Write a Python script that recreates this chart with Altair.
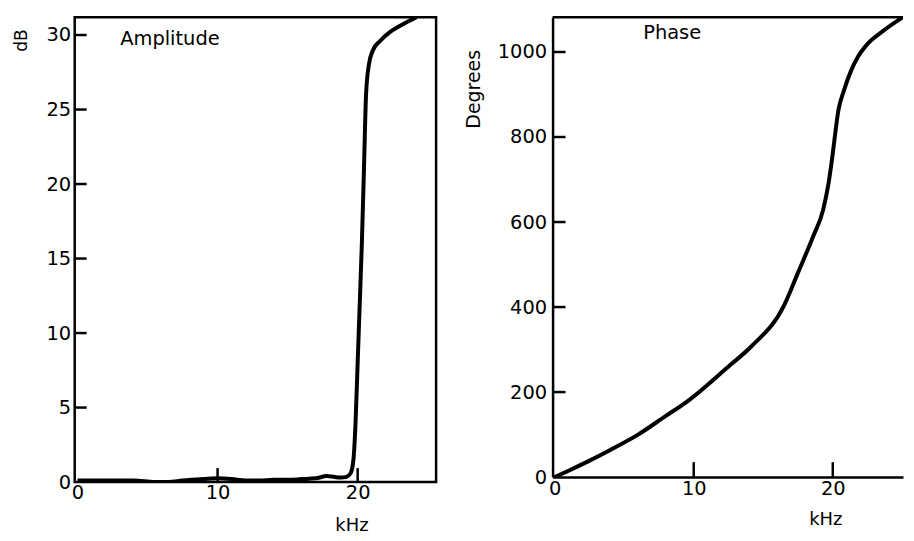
import altair as alt
import pandas as pd

# ---- Amplitude panel data (kHz, dB) ----
amp_khz = [0, 2, 4, 5.5, 6.5, 7.5, 9, 10, 11, 12, 13, 14, 15, 16, 17, 17.8, 18.3,
           18.8, 19.2, 19.5, 19.7, 19.85, 20.0, 20.15, 20.3, 20.45, 20.6, 20.8,
           21.1, 21.6, 22.3, 23.0, 23.6, 24.2]
amp_db = [0.1, 0.1, 0.1, 0.0, 0.0, 0.1, 0.2, 0.25, 0.2, 0.1, 0.1, 0.15, 0.15, 0.2,
          0.25, 0.4, 0.35, 0.3, 0.35, 0.6, 1.5, 4, 8, 12, 16, 21, 26, 28,
          29, 29.6, 30.2, 30.6, 30.9, 31.2]

# ---- Phase panel data (kHz, degrees) ----
phase_khz = [0, 1, 2.4, 4, 6, 8, 9.5, 12.6, 14.1, 16.5, 17.5, 18.6, 19.3, 19.7,
             20.0, 20.2, 20.4, 20.8, 21.3, 21.8, 22.5, 23.6, 25.05]
phase_deg = [0, 15, 37, 64, 100, 144, 177, 263, 306, 404, 481, 567, 628, 692,
             762, 815, 862, 909, 955, 988, 1019, 1049, 1082]

# ---- Tick values ----
x_ticks = [0, 10, 20]
x_inner_ticks = [10, 20]
amp_y_ticks = [0, 5, 10, 15, 20, 25, 30]
amp_inner_ticks = [5, 10, 15, 20, 25, 30]
phase_y_ticks = [0, 200, 400, 600, 800, 1000]
phase_inner_ticks = [200, 400, 600, 800, 1000]

amp_df = pd.DataFrame({"x": amp_khz, "y": amp_db})
phase_df = pd.DataFrame({"x": phase_khz, "y": phase_deg})

FONT = "DejaVu Sans"
BLACK = "#000000"
LABEL_SIZE = 19.5

# ---------------- Left panel: Amplitude ----------------
LW, LH = 363, 467
xs_l = alt.Scale(domain=[-0.2, 25.6], nice=False, zero=False)
ys_l = alt.Scale(domain=[0, 31.2], nice=False, zero=False)

ax_l_x = alt.Axis(
    values=x_ticks, format="d", ticks=False, domain=False, grid=False,
    labelFontSize=LABEL_SIZE, labelPadding=2, labelColor=BLACK,
    title="kHz", titleFontSize=18, titleFontWeight="normal", titleColor=BLACK,
    titleX=278, titleY=35, titleAlign="center", titleBaseline="top")
ax_l_y = alt.Axis(
    values=amp_y_ticks, format="d", ticks=False, domain=False, grid=False,
    labelFontSize=LABEL_SIZE, labelPadding=4, labelColor=BLACK,
    title="dB", titleFontSize=17, titleFontWeight="normal", titleColor=BLACK,
    titleAngle=270, titleX=-53, titleY=23, titleAlign="center",
    titleBaseline="middle")

amp_line = alt.Chart(amp_df).mark_line(
    color=BLACK, strokeWidth=4, interpolate="monotone", clip=True
).encode(
    x=alt.X("x:Q", scale=xs_l, axis=ax_l_x),
    y=alt.Y("y:Q", scale=ys_l, axis=ax_l_y),
)

amp_ytick_rules = alt.Chart(pd.DataFrame({"y": amp_inner_ticks})).mark_rule(
    color=BLACK, strokeWidth=2.5
).encode(
    y=alt.Y("y:Q", scale=ys_l, axis=ax_l_y),
    x=alt.value(0), x2=alt.value(12),
)

amp_xtick_rules = alt.Chart(pd.DataFrame({"x": x_inner_ticks})).mark_rule(
    color=BLACK, strokeWidth=2.5
).encode(
    x=alt.X("x:Q", scale=xs_l, axis=ax_l_x),
    y=alt.value(LH), y2=alt.value(LH - 14),
)

amp_label = alt.Chart(pd.DataFrame({"t": ["Amplitude"]})).mark_text(
    fontSize=19.5, color=BLACK, align="center", baseline="alphabetic"
).encode(
    x=alt.X("lx:Q", scale=xs_l, axis=ax_l_x),
    y=alt.Y("ly:Q", scale=ys_l, axis=ax_l_y),
    text="t:N",
).transform_calculate(lx="6.6", ly="29.3")

left = alt.layer(amp_line, amp_ytick_rules, amp_xtick_rules, amp_label).properties(
    width=LW, height=LH,
    view=alt.ViewBackground(stroke=BLACK, strokeWidth=2.5),
)

# ---------------- Right panel: Phase ----------------
RW, RH = 352, 462
xs_r = alt.Scale(domain=[-0.15, 25.05], nice=False, zero=False)
ys_r = alt.Scale(domain=[0, 1082], nice=False, zero=False)

ax_r_x = alt.Axis(
    values=x_ticks, format="d", ticks=False, domain=True, domainColor=BLACK,
    domainWidth=2.5, grid=False,
    labelFontSize=LABEL_SIZE, labelPadding=2, labelColor=BLACK,
    title="kHz", titleFontSize=18, titleFontWeight="normal", titleColor=BLACK,
    titleX=274, titleY=34, titleAlign="center", titleBaseline="top")
ax_r_y = alt.Axis(
    values=phase_y_ticks, format="d", ticks=False, domain=True, domainColor=BLACK,
    domainWidth=2.5, grid=False,
    labelFontSize=LABEL_SIZE, labelPadding=6, labelColor=BLACK,
    title="Degrees", titleFontSize=19, titleFontWeight="normal",
    titleColor=BLACK, titleAngle=270, titleX=-79, titleY=72,
    titleAlign="center", titleBaseline="middle")

phase_line = alt.Chart(phase_df).mark_line(
    color=BLACK, strokeWidth=4, interpolate="monotone", clip=True
).encode(
    x=alt.X("x:Q", scale=xs_r, axis=ax_r_x),
    y=alt.Y("y:Q", scale=ys_r, axis=ax_r_y),
)

phase_ytick_rules = alt.Chart(pd.DataFrame({"y": phase_inner_ticks})).mark_rule(
    color=BLACK, strokeWidth=2.5
).encode(
    y=alt.Y("y:Q", scale=ys_r, axis=ax_r_y),
    x=alt.value(0), x2=alt.value(13),
)

phase_xtick_rules = alt.Chart(pd.DataFrame({"x": x_inner_ticks})).mark_rule(
    color=BLACK, strokeWidth=2.5
).encode(
    x=alt.X("x:Q", scale=xs_r, axis=ax_r_x),
    y=alt.value(RH), y2=alt.value(RH - 15),
)

phase_top = alt.Chart(pd.DataFrame({"a": [0]})).mark_rule(
    color=BLACK, strokeWidth=2.5
).encode(
    y=alt.value(0), x=alt.value(0), x2=alt.value(RW),
)

phase_label = alt.Chart(pd.DataFrame({"t": ["Phase"]})).mark_text(
    fontSize=19.5, color=BLACK, align="center", baseline="alphabetic"
).encode(
    x=alt.X("lx:Q", scale=xs_r, axis=ax_r_x),
    y=alt.Y("ly:Q", scale=ys_r, axis=ax_r_y),
    text="t:N",
).transform_calculate(lx="8.45", ly="1030")

right = alt.layer(phase_line, phase_ytick_rules, phase_xtick_rules, phase_top,
                  phase_label).properties(
    width=RW, height=RH,
    view=alt.ViewBackground(stroke="transparent"),
)

chart = alt.hconcat(left, right, spacing=25).properties(
    padding={"left": 3, "top": 5, "right": 0, "bottom": 0}
).configure(
    font=FONT, background="white"
).configure_view(
    stroke=BLACK, strokeWidth=2.5
)

chart.save("out.html", embed_options={"renderer": "svg", "actions": False})
